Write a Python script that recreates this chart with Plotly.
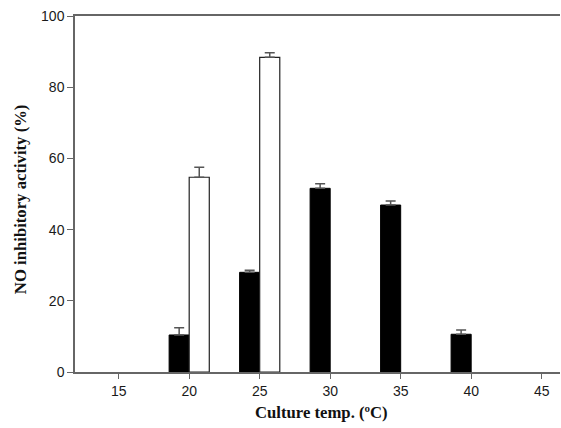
import plotly.graph_objects as go

temps_black = [20, 25, 30, 35, 40]
vals_black = [10.4, 28.0, 51.6, 46.9, 10.6]
err_black = [2.0, 0.6, 1.3, 1.1, 1.2]

temps_white = [20, 25]
vals_white = [54.7, 88.4]
err_white = [2.8, 1.3]

x_ticks = [15, 20, 25, 30, 35, 40, 45]
y_ticks = [0, 20, 40, 60, 80, 100]

fig = go.Figure()
fig.add_trace(go.Bar(
    x=temps_black, y=vals_black,
    marker=dict(color="black", line=dict(color="black", width=1)),
    error_y=dict(type="data", array=err_black, arrayminus=[0]*len(err_black),
                 symmetric=False, color="#555555", thickness=1.5, width=5),
    showlegend=False,
))
fig.add_trace(go.Bar(
    x=temps_white, y=vals_white,
    marker=dict(color="white", line=dict(color="#222222", width=1.2)),
    error_y=dict(type="data", array=err_white, arrayminus=[0]*len(err_white),
                 symmetric=False, color="#555555", thickness=1.5, width=5),
    showlegend=False,
))

title_font = dict(family="Liberation Serif, Times New Roman", size=16.7, color="#111111", weight="bold")

fig.update_layout(
    width=561, height=428,
    margin=dict(l=75, r=1, t=16, b=56, autoexpand=False),
    barmode="group", bargap=0.43, bargroupgap=0,
    plot_bgcolor="white", paper_bgcolor="white",
    font=dict(family="Liberation Sans, Arial", size=14, color="#1a1a1a"),
    annotations=[
        dict(text="Culture temp. (ºC)", xref="paper", yref="paper", x=0.509, y=-0.115,
             xanchor="center", yanchor="middle", showarrow=False, font=title_font),
        dict(text="NO inhibitory activity (%)", xref="paper", yref="paper", x=-0.111, y=0.486,
             xanchor="center", yanchor="middle", textangle=-90, showarrow=False, font=title_font),
    ],
)
fig.update_xaxes(
    range=[11.9, 46.3], tickvals=x_ticks, ticktext=[str(v) for v in x_ticks],
    ticks="outside", ticklen=5, tickcolor="#666666", tickwidth=1.2,
    showline=True, linecolor="#666666", linewidth=1.5, mirror=True,
    showgrid=False, zeroline=False, automargin=False, ticklabeloverflow="allow",
)
fig.update_yaxes(
    range=[0, 100], tickvals=y_ticks,
    ticks="outside", ticklen=6, tickcolor="#666666", tickwidth=1.2,
    showline=True, linecolor="#666666", linewidth=1.5,
    showgrid=False, zeroline=False, automargin=False, ticklabeloverflow="allow",
)

fig.write_html(
    "out.html",
    config={"displayModeBar": False},
    post_script="document.body.style.margin='0';document.body.style.overflow='hidden';",
)
